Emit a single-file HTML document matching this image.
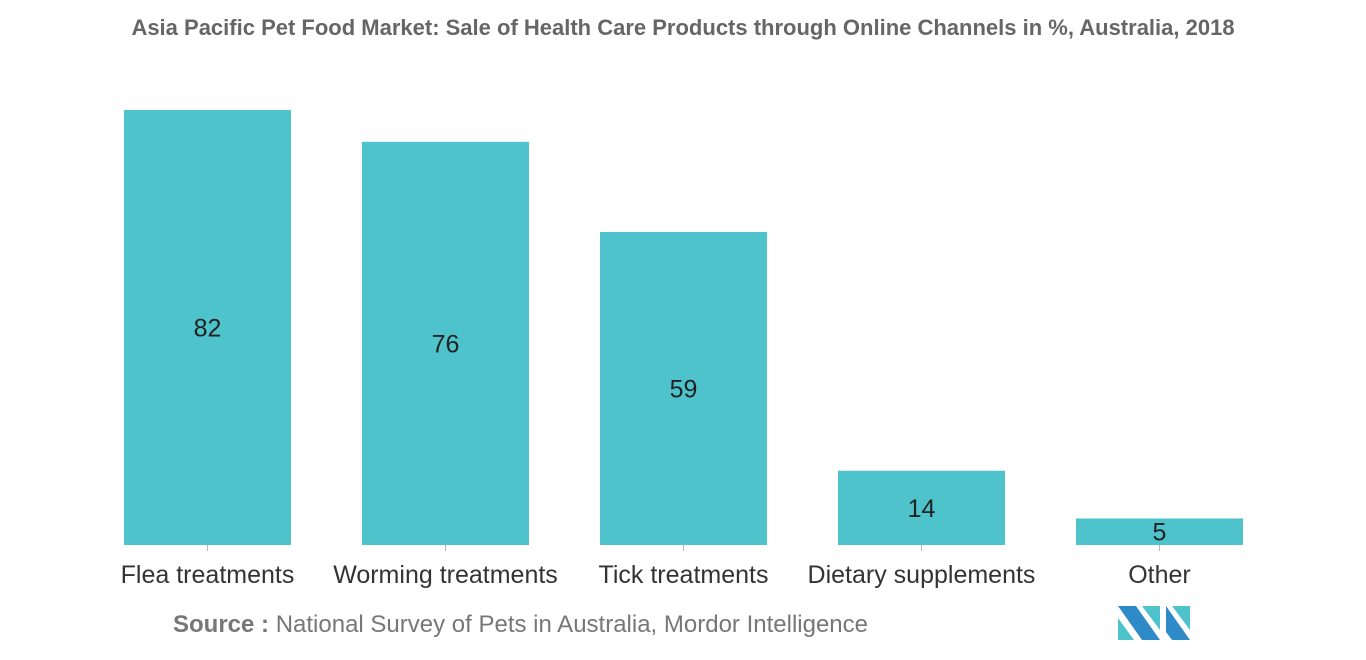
<!DOCTYPE html>
<html><head><meta charset="utf-8"><style>
body{margin:0;width:1366px;height:655px;background:#fff;overflow:hidden;font-family:"Liberation Sans",sans-serif;}
</style></head><body>
<svg width="1366" height="655" xmlns="http://www.w3.org/2000/svg">
<text x="683" y="35" text-anchor="middle" font-size="22" font-weight="bold" fill="#666">Asia Pacific Pet Food Market: Sale of Health Care Products through Online Channels in %, Australia, 2018</text>
<g id="bars"></g>
<text x="173" y="632" font-size="24" fill="#777"><tspan font-weight="bold">Source :</tspan> National Survey of Pets in Australia, Mordor Intelligence</text>
<g>
<polygon points="1118,606 1136,606 1160,640 1142,640" fill="#2e8bc8"/>
<polygon points="1118,618 1118,640 1134,640" fill="#4fc3cc"/>
<polygon points="1142,606 1160,606 1160,630" fill="#4fc3cc"/>
<polygon points="1166,606 1190,640 1172,640 1166,632" fill="#2e8bc8"/>
<polygon points="1172,606 1190,606 1190,630" fill="#4fc3cc"/>
</g>
</svg>
<script>
const categories=["Flea treatments","Worming treatments","Tick treatments","Dietary supplements","Other"];
const values=[82,76,59,14,5];
const baseY=545, pxPerUnit=5.305, x0=88.5, step=238, barW=167;
const y=v=>baseY-v*pxPerUnit;
const xc=i=>x0+step*(i+0.5);
const g=document.getElementById('bars');
const NS="http://www.w3.org/2000/svg";
categories.forEach((c,i)=>{
  const r=document.createElementNS(NS,'rect');
  r.setAttribute('x',xc(i)-barW/2);r.setAttribute('y',y(values[i]));
  r.setAttribute('width',barW);r.setAttribute('height',baseY-y(values[i]));
  r.setAttribute('fill','#4fc3cc');
  
  
  g.appendChild(r);
  const t=document.createElementNS(NS,'text');
  t.setAttribute('x',xc(i));t.setAttribute('y',(y(values[i])+baseY)/2+9);
  t.setAttribute('text-anchor','middle');t.setAttribute('font-size','25');t.setAttribute('fill','#222');
  t.textContent=values[i];
  
  
  g.appendChild(t);
  const tk=document.createElementNS(NS,'line');
  tk.setAttribute('x1',xc(i));tk.setAttribute('x2',xc(i));tk.setAttribute('y1',baseY);tk.setAttribute('y2',baseY+6);
  tk.setAttribute('stroke','#bbb');
  
  
  g.appendChild(tk);
  const l=document.createElementNS(NS,'text');
  l.setAttribute('x',xc(i));l.setAttribute('y',583);
  l.setAttribute('text-anchor','middle');l.setAttribute('font-size','25');l.setAttribute('fill','#333');
  l.textContent=c;
  
  
  g.appendChild(l);
});
</script>
</body></html>
